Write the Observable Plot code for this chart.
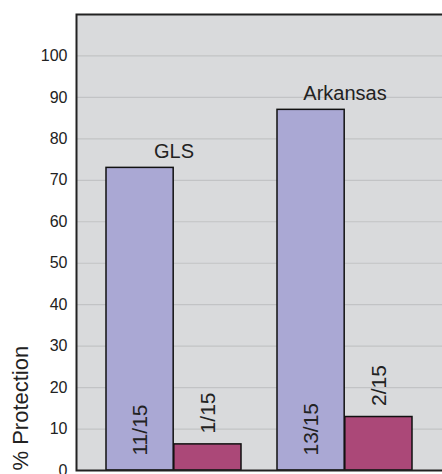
<!DOCTYPE html>
<html>
<head>
<meta charset="utf-8">
<script src="https://cdn.jsdelivr.net/npm/d3@7"></script>
<script src="https://cdn.jsdelivr.net/npm/@observablehq/plot@0.6"></script>
<style>
  html, body { margin: 0; padding: 0; background: #fff; }
  #chart svg { display: block; }
</style>
</head>
<body>
<div id="chart"></div>
<script>
const groups = ["GLS", "Arkansas"];
const vaccineValues = [73, 87];
const controlValues = [6.3, 12.9];
const vaccineLabels = ["11/15", "13/15"];
const controlLabels = ["1/15", "2/15"];
const yTicks = [0, 10, 20, 30, 40, 50, 60, 70, 80, 90, 100];

const data = groups.map((g, i) => ({
  group: g,
  vaccine: vaccineValues[i],
  control: controlValues[i],
  vLabel: vaccineLabels[i],
  cLabel: controlLabels[i],
  top: Math.max(vaccineValues[i], controlValues[i])
}));

const W = 442, H = 474;
const mL = 76, mR = -10;
const pInner = 0.21, pOuter = 0.2;
const step = (W - mL - mR) / (groups.length - pInner + 2 * pOuter);
const bw = step * (1 - pInner);
const half = bw / 2;

const font = "'Liberation Sans', Arial, Helvetica, sans-serif";

const chart = Plot.plot({
  width: W,
  height: H,
  marginLeft: mL,
  marginRight: mR,
  marginTop: 14,
  marginBottom: 4,
  style: { fontFamily: font, background: "#fff", overflow: "hidden" },
  x: { domain: groups, paddingInner: pInner, paddingOuter: pOuter, align: 0.43, axis: null },
  y: { domain: [0, 110] },
  marks: [
    Plot.frame({ fill: "#d9dadc" }),
    Plot.gridY(yTicks, { stroke: "#c2c3c5", strokeOpacity: 1, strokeWidth: 1.2 }),
    Plot.axisY(yTicks, {
      tickSize: 0, tickPadding: 9, fontSize: 16, fill: "#222",
      label: null
    }),
    Plot.barY(data, { x: "group", y: "vaccine", insetRight: half, fill: "#aaa8d4", stroke: "#111", strokeWidth: 1.5 }),
    Plot.barY(data, { x: "group", y: "control", insetLeft: half, fill: "#ab4878", stroke: "#111", strokeWidth: 1.5 }),
    Plot.text(data, { x: "group", y: "top", text: "group", dy: -10, lineAnchor: "bottom", fontSize: 20, fill: "#222" }),
    Plot.text(data, { x: "group", y: 0, text: "vLabel", dx: -half / 2, dy: -15, rotate: -90, textAnchor: "start", lineAnchor: "middle", fontSize: 21, fill: "#222" }),
    Plot.text(data, { x: "group", y: "control", text: "cLabel", dx: half / 2, dy: -11, rotate: -90, textAnchor: "start", lineAnchor: "middle", fontSize: 21, fill: "#222" }),
    Plot.text(["% Protection"], { frameAnchor: "bottom-left", text: d => d, dx: -56, rotate: -90, textAnchor: "start", lineAnchor: "middle", fontSize: 22, fill: "#222" }),
    Plot.frame({ stroke: "#222", strokeWidth: 2 })
  ]
});
document.getElementById("chart").appendChild(chart);
</script>
</body>
</html>
